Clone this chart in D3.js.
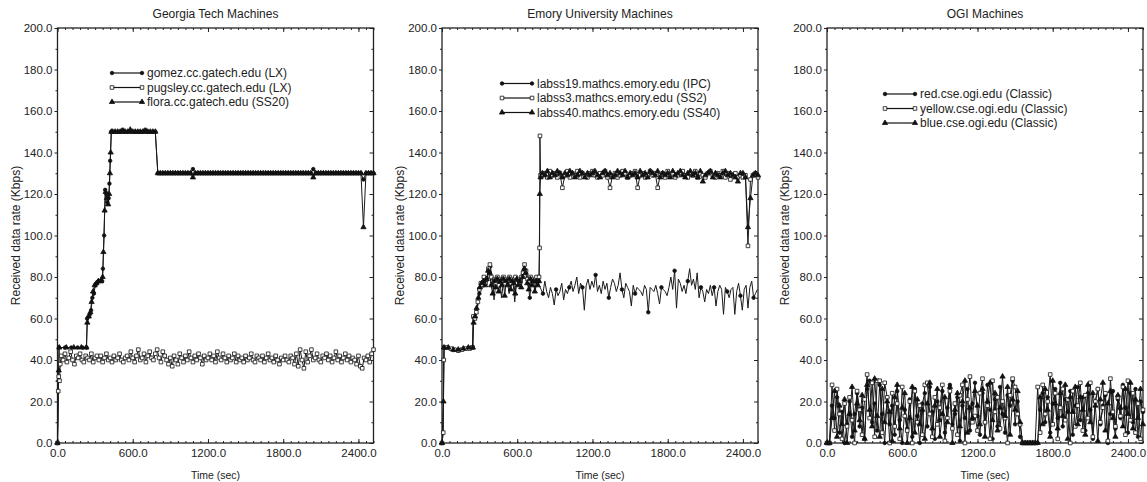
<!DOCTYPE html>
<html>
<head>
<meta charset="utf-8">
<script src="https://cdn.jsdelivr.net/npm/d3@7"></script>
<style>
  body { margin: 0; background: #fff; }
  text { font-family: "Liberation Sans", Arial, sans-serif; font-size: 12px; fill: #222; }
</style>
</head>
<body>
<svg id="chart"></svg>
<script>
// three panels of received data rate vs time

// ---- data ----
const timeTicks = [0, 600, 1200, 1800, 2400];
const rateTicks = [0, 20, 40, 60, 80, 100, 120, 140, 160, 180, 200];
const timeMax = 2520;
const rateMax = 200;

const panelTitles = ['Georgia Tech Machines', 'Emory University Machines', 'OGI Machines'];
const gatechNames = ['gomez.cc.gatech.edu (LX)', 'pugsley.cc.gatech.edu (LX)', 'flora.cc.gatech.edu (SS20)'];
const emoryNames = ['labss19.mathcs.emory.edu (IPC)', 'labss3.mathcs.emory.edu (SS2)', 'labss40.mathcs.emory.edu (SS40)'];
const ogiNames = ['red.cse.ogi.edu (Classic)', 'yellow.cse.ogi.edu (Classic)', 'blue.cse.ogi.edu (Classic)'];

// Georgia Tech: irregular ramp [t, kbps] then samples every 20 s from 440
const gomezRamp = [[0,0],[8,30],[12,46],[60,46],[110,46],[160,46],[200,46],[232,46],[236,60],[248,61],[258,62],[268,64],[278,70],[290,72],[302,76],[314,77],[326,78],[340,78],[356,78],[362,84],[372,100],[380,122],[390,120],[398,116],[408,118],[414,125],[420,136],[428,150]];
const gomezRate = [150,150,150,150,151,150,150,150,150,150,150,150,150,151,150,150,150,150,
  130,130,130,130,130,130,130,130,130,130,130,130,130,130,132,130,130,130,130,130,
  130,130,130,130,130,130,130,130,130,130,130,130,130,130,130,130,130,130,130,130,
  130,130,130,130,130,130,130,130,130,130,130,130,130,130,130,130,130,130,130,130,
  130,130,132,130,130,130,130,130,130,130,130,130,130,130,130,130,130,130,130,130,
  130,130,127,130,130,130,130];
const floraRamp = [[0,0],[10,35],[14,46],[70,46],[130,46],[190,46],[230,46],[238,58],[250,61],[262,63],[272,68],[284,73],[296,76],[310,77],[326,78],[346,78],[360,80],[366,92],[376,112],[384,121],[394,118],[404,115],[412,120],[418,130],[424,140],[430,150]];
const floraRate = [150,150,150,150,150,150,150,151,150,150,150,150,150,150,150,150,150,150,
  130,130,130,130,130,130,130,130,130,130,130,130,130,130,128,130,130,130,130,130,
  130,130,130,130,130,130,130,130,130,130,130,130,130,130,130,130,130,130,130,130,
  130,130,130,130,130,130,130,130,130,130,130,130,130,130,130,130,130,130,130,130,
  130,130,128,130,130,130,130,130,130,130,130,130,130,130,130,130,130,130,130,130,
  130,130,104,130,130,130,130];
// pugsley: samples every 15 s from 30
const pugsleyRamp = [[0,0],[6,25],[10,32],[16,30],[22,38]];
const pugsleyRate = [42,40,43,39,41,44,40,38,42,41,43,40,39,42,41,40,43,39,41,42,
  40,42,39,41,43,40,41,39,42,40,41,43,40,39,41,42,40,44,41,39,
  42,45,40,41,43,39,42,44,41,40,43,45,41,39,44,42,40,38,41,37,
  42,40,38,43,41,39,42,40,44,41,39,42,40,43,41,38,42,40,41,43,
  40,42,39,44,41,40,43,41,39,42,40,41,43,39,42,40,41,39,42,40,
  41,43,40,39,42,41,40,42,39,41,43,40,41,39,42,40,38,41,40,42,
  40,39,42,41,38,43,37,45,40,36,44,39,42,45,40,41,43,40,39,42,
  41,43,40,42,39,41,44,40,42,39,41,43,40,42,39,41,40,38,42,37,
  36,41,40,42,39,43,45];

// Emory
const labss19Ramp = [[0,0],[8,4.5],[12,28],[16,46],[30,46],[50,45.5],[70,45],[90,44.8],[110,44.5],[130,45],[150,45.5],[170,45],[190,45.5],[210,45.5],[230,46],[244,46],[248,60],[258,62],[268,60.5],[278,64],[288,67],[298,72],[308,76],[318,78],[328,76]];
// labss19: samples every 15 s from 340
const labss19Rate = [79,76,82,85,80,69,78,76,79,70,78,77,79,72,78,79,68,78,77,79,83,85,84,78,70,79,77,74,78,
  76,74,72,78,73,70,75,72,66.5,74,71,73,77,69,74,72,75,78,73,76,
  80,72,77,75,64,76,79,74,78,75,81,73,76,72,78,74,77,70,75,79,
  77,73,76,82,74,70,77,75,73,66,76,72,75,74,73,71,76,74,63,75,
  74,73,76,72,67,75,74,73,71,75,80,74,83,65,79,77,73,76,72,78,
  84,76,79,74,82,70,75,73,68,74,72,76,71,75,66,73,76,74,62,75,
  73,70,74,75,62,73,77,71,64,74,76,65,75,78,70,72,74];
const labss3Ramp = [[0,0],[10,5],[14,40],[18,46],[40,46],[70,45.5],[100,45],[130,44.5],[160,45],[190,45.5],[220,45.5],[244,46],[250,61],[262,60],[274,63],[286,68],[298,74],[310,77],[322,76],[334,80],[346,77],[358,79],[370,84],[382,86],[394,80],[406,78],[418,79],[430,77],[442,80],[454,76],[466,79],[478,78],[490,80],[502,77],[514,79],[526,78],[538,80],[550,77],[562,79],[574,78],[586,80],[598,77],[610,79],[622,78],[634,80],[646,82],[658,86],[670,83],[682,79],[694,78],[706,80],[718,77],[730,79],[742,78],[754,80],[766,78],[774,80],[778,94],[781,148],[786,129]];
// labss3 / labss40: samples every 20 s from 800
const labss3Rate = [129,130,128,131,129,130,128,130,123,129,131,128,130,129,131,128,130,129,128,130,
  131,129,128,130,129,131,128,123,129,130,128,129,131,130,128,129,130,131,123,129,
  130,128,129,131,129,130,123,129,130,128,131,129,130,128,129,130,131,129,128,130,
  129,131,128,130,129,128,130,131,129,128,130,129,131,128,130,127,129,130,128,129,
  128,129,95,127,129,130,128];
const labss40Ramp = [[0,0],[12,20],[16,46],[50,46],[90,45],[130,45],[170,45.5],[210,46],[246,46],[252,58],[264,61],[276,65],[290,70],[302,75],[316,77],[330,78],[344,76],[356,79],[368,83],[380,82],[392,76],[404,72],[416,78],[428,75],[440,79],[452,73],[464,78],[476,76],[488,79],[500,71],[512,78],[524,76],[536,79],[548,74],[560,78],[572,77],[584,72],[596,79],[608,76],[620,78],[632,75],[644,80],[656,84],[668,82],[680,77],[692,74],[704,79],[716,76],[728,78],[740,73],[752,78],[764,76],[774,78],[780,120],[786,128]];
const labss40Rate = [130,129,131,128,130,129,131,130,128,130,129,131,130,128,129,131,130,128,130,129,
  130,131,129,128,130,131,129,130,128,129,131,130,129,131,128,130,129,130,128,131,
  129,130,128,131,130,129,131,128,130,129,130,128,131,129,130,131,129,128,130,131,
  129,130,128,131,126,129,130,131,128,130,129,128,130,131,129,130,129,128,126,130,
  130,128,104,118,129,130,129];

// OGI: samples every 20 s from 0
const redRate = [0,0,18,12,22,5,15,0,9,20,3,14,24,8,17,2,26,30,10,19,
  6,28,14,0,22,9,18,4,25,11,0,16,7,21,3,26,13,0,19,24,
  8,27,15,2,20,11,25,5,17,28,9,14,22,1,18,12,26,6,19,29,
  13,4,24,10,28,16,2,21,8,27,14,5,23,18,30,9,20,3,0,0,
  0,0,0,0,0,16,24,10,22,5,19,26,12,29,8,21,15,25,4,18,
  27,11,22,6,24,16,2,20,26,9,18,23,0,14,25,7,21,12,28,17,
  5,24,10,26,3,20,15];
const yellowRate = [0,0,28,6,26,14,2,19,8,22,11,0,25,16,4,21,33,12,29,3,
  30,30,5,29,22,0,24,8,19,2,27,13,6,20,0,25,10,18,4,28,
  29,14,3,22,9,17,28,1,12,25,7,19,4,23,28,0,21,32,10,13,
  6,24,31,10,18,2,30,15,22,7,20,12,0,23,31,27,14,9,0,0,
  0,0,0,0,27,5,28,14,20,33,9,24,2,17,26,11,21,0,25,8,
  18,29,6,23,12,29,3,20,26,10,17,24,1,31,15,8,22,13,27,4,
  30,11,24,5,19,2,16];
const blueRate = [0,0,12,25,3,18,9,21,0,14,27,6,19,11,23,2,28,16,8,31,
  13,3,26,10,20,15,1,22,28,7,17,24,0,12,27,5,21,9,16,2,
  19,29,7,18,26,3,14,22,10,27,0,16,24,8,20,30,5,17,12,25,
  18,9,26,3,20,29,11,24,6,17,32,13,27,4,21,16,25,10,0,0,
  0,0,0,0,0,22,9,26,16,3,30,19,7,24,13,28,2,22,15,27,
  9,22,16,4,28,10,24,18,1,21,29,6,19,25,12,3,23,17,8,26,
  14,29,7,21,12,26,9];

// join a ramp of [t, v] pairs with regularly sampled values
function buildSeries(ramp, start, step, rates){
    var pts = ramp.map(p => ({t: p[0], v: p[1]}));
    rates.forEach(function(v, i){ pts.push({t: start + i*step, v: v}); });
    return pts;
}

// ---- layout ----
var width = 1147, height = 482;
var plotTop = 28, plotBottom = 443, plotWidth = 316;

var svg = d3.select('#chart').attr('width', width).attr('height', height);

var markers = {
    circle: {sym: d3.symbol().type(d3.symbolCircle).size(10), fill: '#111', stroke: '#111'},
    square: {sym: d3.symbol().type(d3.symbolSquare).size(13), fill: '#fff', stroke: '#111'},
    triangle: {sym: d3.symbol().type(d3.symbolTriangle).size(12), fill: '#111', stroke: '#111'}
};

var panels = [
    {left: 57.5, title: panelTitles[0], names: gatechNames, legendX: 112, legendY: 73,
     series: [
        {pts: buildSeries(gomezRamp, 440, 20, gomezRate), marker: 'circle', every: 1},
        {pts: buildSeries(pugsleyRamp, 30, 15, pugsleyRate), marker: 'square', every: 1},
        {pts: buildSeries(floraRamp, 440, 20, floraRate), marker: 'triangle', every: 1}]},
    {left: 442, title: panelTitles[1], names: emoryNames, legendX: 502, legendY: 83.5,
     series: [
        {pts: buildSeries(labss19Ramp, 340, 15, labss19Rate), marker: 'circle', every: 7},
        {pts: buildSeries(labss3Ramp, 800, 20, labss3Rate), marker: 'square', every: 1},
        {pts: buildSeries(labss40Ramp, 800, 20, labss40Rate), marker: 'triangle', every: 1}]},
    {left: 827, title: panelTitles[2], names: ogiNames, legendX: 885, legendY: 94,
     series: [
        {pts: buildSeries([], 0, 20, redRate), marker: 'circle', every: 1},
        {pts: buildSeries([], 0, 20, yellowRate), marker: 'square', every: 1},
        {pts: buildSeries([], 0, 20, blueRate), marker: 'triangle', every: 1}]}
];

var minorTime = d3.range(0, timeMax + 1, 60);
var minorRate = d3.range(10, rateMax, 20);

function drawMarker(sel, kind){
    var m = markers[kind];
    sel.attr('d', m.sym)
       .attr('fill', m.fill)
       .attr('stroke', m.stroke)
       .attr('stroke-width', 0.8);
}

panels.forEach(function(p){
    var g = svg.append('g');
    var right = p.left + plotWidth;

    var xScale = d3.scaleLinear().domain([0, timeMax]).range([p.left, right]);
    var yScale = d3.scaleLinear().domain([0, rateMax]).range([plotBottom, plotTop]);

    // minor ticks on all four sides
    g.append('g').attr('transform', `translate(0,${plotBottom})`)
        .call(d3.axisBottom(xScale).tickValues(minorTime).tickSize(-2).tickFormat(''));
    g.append('g').attr('transform', `translate(0,${plotTop})`)
        .call(d3.axisTop(xScale).tickValues(minorTime).tickSize(-2).tickFormat(''));
    g.append('g').attr('transform', `translate(${p.left},0)`)
        .call(d3.axisLeft(yScale).tickValues(minorRate).tickSize(2).tickFormat(''));
    g.append('g').attr('transform', `translate(${right},0)`)
        .call(d3.axisRight(yScale).tickValues(minorRate).tickSize(-2).tickFormat(''));

    // major ticks
    g.append('g').attr('transform', `translate(0,${plotBottom})`)
        .call(d3.axisBottom(xScale).tickValues(timeTicks).tickSize(-4).tickPadding(6).tickFormat(d3.format('.1f')));
    g.append('g').attr('transform', `translate(0,${plotTop})`)
        .call(d3.axisTop(xScale).tickValues(timeTicks).tickSize(-4).tickFormat(''));
    g.append('g').attr('transform', `translate(${p.left},0)`)
        .call(d3.axisLeft(yScale).tickValues(rateTicks).tickSize(3).tickPadding(2).tickFormat(d3.format('.1f')));
    g.append('g').attr('transform', `translate(${right},0)`)
        .call(d3.axisRight(yScale).tickValues(rateTicks).tickSize(-4).tickFormat(''));

    g.selectAll('.domain').remove();
    g.selectAll('.tick line').attr('stroke', '#222');
    g.selectAll('.tick text').attr('fill', '#222').style('font-size', '11.5px')
        .style('font-family', '"Liberation Sans", Arial, sans-serif');

    // frame
    g.append('rect')
        .attr('x', p.left).attr('y', plotTop)
        .attr('width', plotWidth).attr('height', plotBottom - plotTop)
        .attr('fill', 'none').attr('stroke', '#222').attr('stroke-width', 1.3);

    // titles and axis labels
    g.append('text').text(p.title)
        .attr('x', p.left + plotWidth/2).attr('y', 18)
        .attr('text-anchor', 'middle');
    g.append('text').text('Time (sec)')
        .attr('x', p.left + plotWidth/2).attr('y', 479)
        .attr('text-anchor', 'middle')
        .style('font-size', '10.5px');
    g.append('text').text('Received data rate (Kbps)')
        .attr('transform', `translate(${p.left - 42}, ${(plotTop + plotBottom)/2}) rotate(-90)`)
        .attr('dy', '0.35em')
        .attr('text-anchor', 'middle');

    var dataLine = d3.line().x(d => xScale(d.t)).y(d => yScale(d.v));

    // traces
    p.series.forEach(function(s){
        g.append('path')
            .attr('d', dataLine(s.pts))
            .attr('fill', 'none')
            .attr('stroke', '#1a1a1a')
            .attr('stroke-width', 1);
    });
    p.series.forEach(function(s){
        g.append('g').selectAll('path')
            .data(s.pts.filter((d, i) => i % s.every === 0))
            .join('path')
            .attr('transform', d => `translate(${xScale(d.t)},${yScale(d.v)})`)
            .call(drawMarker, s.marker);
    });

    // legend
    var legendG = g.append('g').attr('class', 'legend');
    p.series.forEach(function(s, i){
        var ly = p.legendY + i*14.5;
        legendG.append('line')
            .attr('x1', p.legendX).attr('x2', p.legendX + 30)
            .attr('y1', ly).attr('y2', ly)
            .attr('stroke', '#111').attr('stroke-width', 1.2);
        [p.legendX, p.legendX + 30].forEach(function(mx){
            legendG.append('path')
                .attr('transform', `translate(${mx},${ly})`)
                .call(drawMarker, s.marker);
        });
        legendG.append('text').text(p.names[i])
            .attr('x', p.legendX + 35).attr('y', ly)
            .attr('dy', '0.35em');
    });
});
</script>
</body>
</html>
